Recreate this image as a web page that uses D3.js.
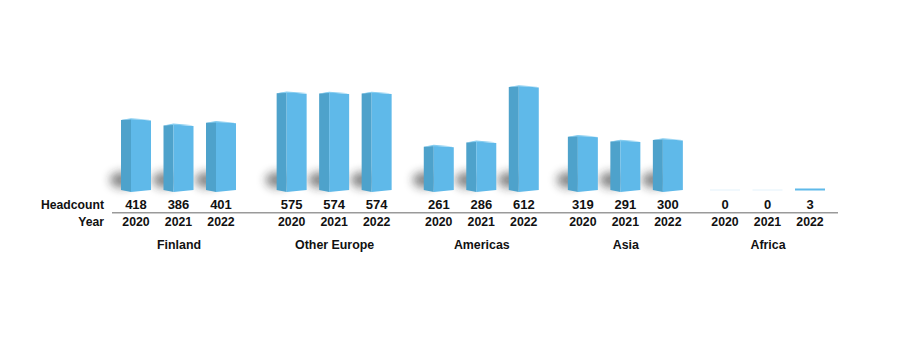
<!DOCTYPE html>
<html><head><meta charset="utf-8">
<script src="https://cdn.jsdelivr.net/npm/d3@7"></script>
<style>body{margin:0;background:#fff}svg{display:block}text{font-family:"Liberation Sans",Arial,sans-serif;font-weight:bold;fill:#111}</style>
</head><body>
<script>
const regions = ["Finland","Other Europe","Americas","Asia","Africa"];
const years = ["2020","2021","2022"];
const headcount = [
  [418,386,401],
  [575,574,574],
  [261,286,612],
  [319,291,300],
  [0,0,3]
];
const rowLabels = ["Headcount","Year"];

const W=900,H=344;
const svg=d3.select("body").append("svg").attr("width",W).attr("height",H);
const defs=svg.append("defs");
const f=defs.append("filter").attr("id","blur").attr("x","-100%").attr("y","-100%").attr("width","300%").attr("height","300%");
f.append("feGaussianBlur").attr("stdDeviation",5);

// slight perspective: group spacing shrinks to the right
const xg=d3.scalePow().exponent(0.96).domain([0,regions.length-1]).range([179,768]);
const x1=d3.scalePoint().domain(years).range([-43,42]);
const y=d3.scaleLinear().domain([0,612]).range([190,86]);
const barW=30, sideW=10;

const data=[];
regions.forEach((r,i)=>years.forEach((yr,j)=>data.push({r,yr,v:headcount[i][j],cx:xg(i)+x1(yr)})));

const g=svg.append("g");
// shadows
g.selectAll("ellipse.sh").data(data.filter(d=>d.v>10)).join("ellipse")
  .attr("cx",d=>d.cx-barW/2+1).attr("cy",d=>y(0)-10).attr("rx",12).attr("ry",8)
  .attr("fill","#222").attr("opacity",0.55).attr("filter","url(#blur)");

data.forEach(d=>{
  const L=d.cx-barW/2, R=d.cx+barW/2, M=L+sideW;
  const top=y(d.v), bot=y(0);
  if(d.v===0){
    g.append("line").attr("x1",L).attr("x2",R).attr("y1",bot).attr("y2",bot).attr("stroke","#e3f2fb").attr("stroke-width",1);
    return;
  }
  const h=bot-top;
  if(h<3){
    g.append("rect").attr("x",L).attr("y",bot-1.5).attr("width",barW).attr("height",2).attr("fill","#5fb9e9");
    return;
  }
  g.append("path").attr("d",`M${L},${top+1} L${M},${top} L${M},${bot+2} L${L},${bot} Z`).attr("fill","#4ea2cb");
  g.append("path").attr("d",`M${M},${top} L${R},${top+1.5} L${R},${bot} L${M},${bot+2} Z`).attr("fill","#5fb9e9");
  g.append("path").attr("d",`M${L},${top+1} L${M},${top-0.8} L${R},${top+0.8} L${M},${top+0.6} Z`).attr("fill","#86cdf0");
});

svg.selectAll("text.val").data(data).join("text").attr("class","val")
  .attr("x",d=>d.cx).attr("y",209).attr("text-anchor","middle").attr("font-size",13).text(d=>d.v);
svg.selectAll("text.yr").data(data).join("text").attr("class","yr")
  .attr("x",d=>d.cx).attr("y",225.5).attr("text-anchor","middle").attr("font-size",12.3).text(d=>d.yr);
svg.selectAll("text.reg").data(regions).join("text").attr("class","reg")
  .attr("x",(d,i)=>xg(i)).attr("y",249.3).attr("text-anchor","middle").attr("font-size",12.4).text(d=>d);

svg.append("line").attr("x1",112).attr("x2",838).attr("y1",212.7).attr("y2",212.7).attr("stroke","#9a9a9a").attr("stroke-width",1.5);

svg.append("text").attr("x",104).attr("y",209.3).attr("text-anchor","end").attr("font-size",12.2).text(rowLabels[0]);
svg.append("text").attr("x",104).attr("y",225.5).attr("text-anchor","end").attr("font-size",12.2).text(rowLabels[1]);
</script>
</body></html>
